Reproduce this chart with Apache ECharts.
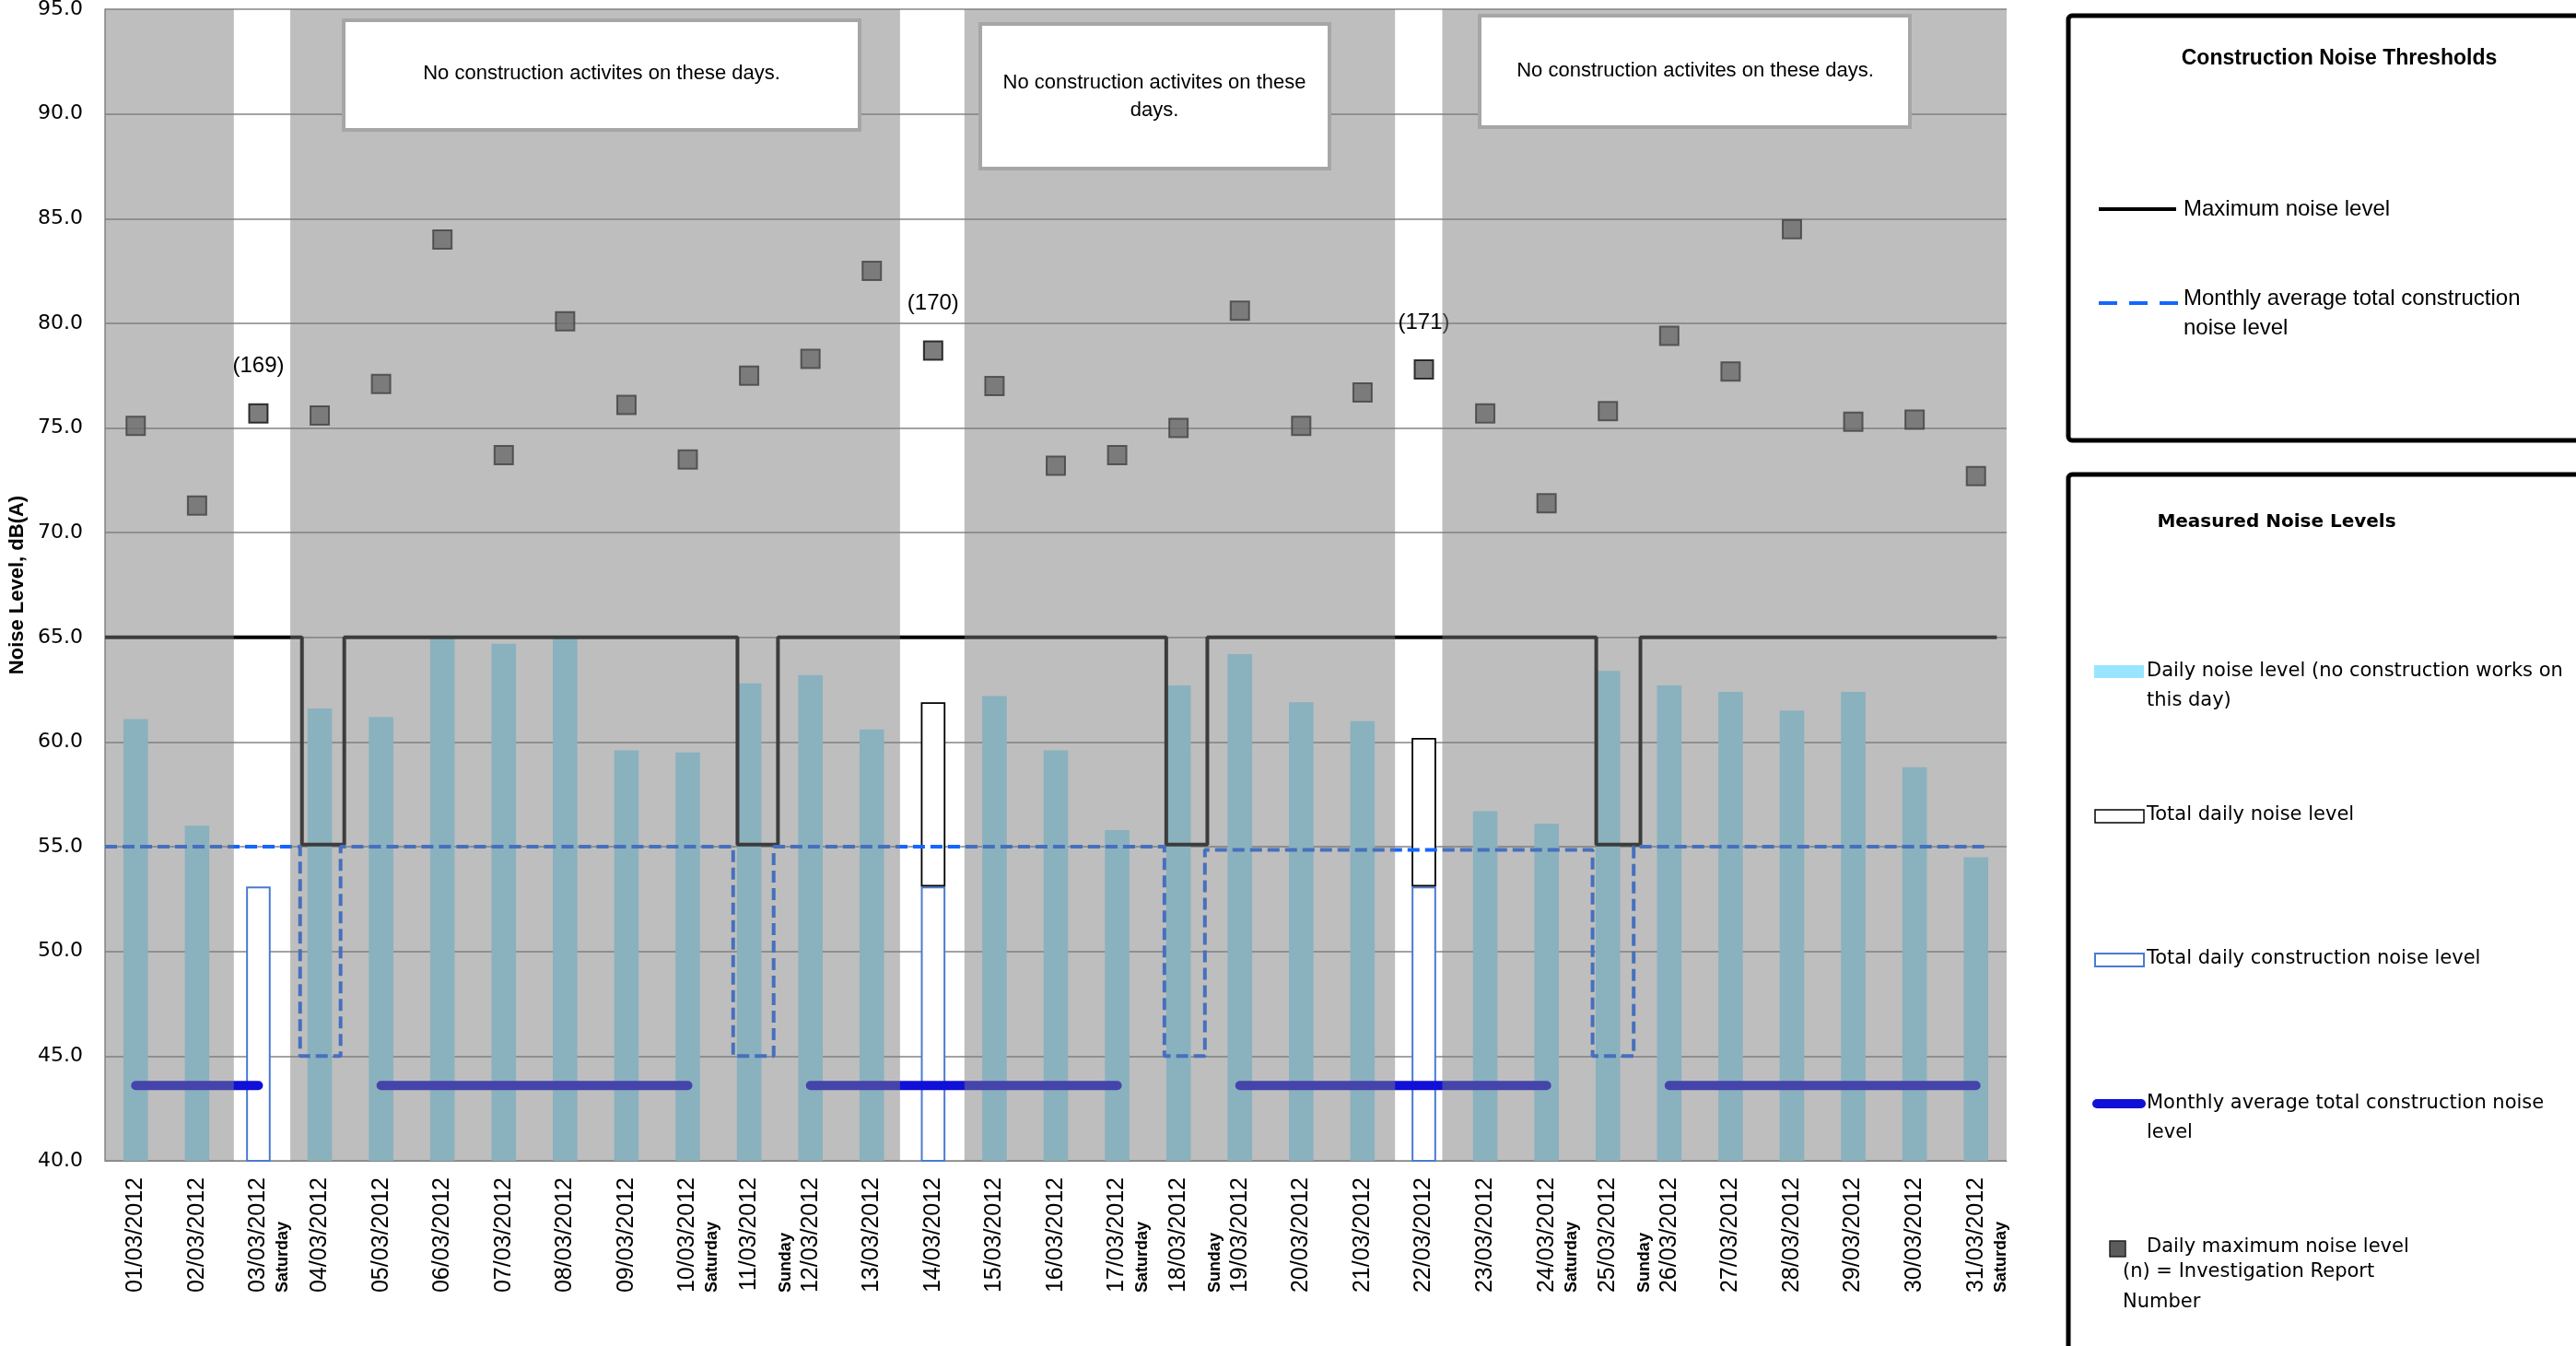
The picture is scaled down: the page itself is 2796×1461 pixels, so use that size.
<!DOCTYPE html>
<html>
<head>
<meta charset="utf-8">
<script src="https://cdn.jsdelivr.net/npm/echarts@6/dist/echarts.min.js"></script>
<style>
html,body{margin:0;padding:0;background:#ffffff;}
#chart{width:2796px;height:1461px;}
</style>
</head>
<body>
<div id="chart"></div>
<script>
// ---------------- DATA ----------------
const days = ['01/03/2012','02/03/2012','03/03/2012','04/03/2012','05/03/2012','06/03/2012','07/03/2012','08/03/2012','09/03/2012','10/03/2012',
  '11/03/2012','12/03/2012','13/03/2012','14/03/2012','15/03/2012','16/03/2012','17/03/2012','18/03/2012','19/03/2012','20/03/2012',
  '21/03/2012','22/03/2012','23/03/2012','24/03/2012','25/03/2012','26/03/2012','27/03/2012','28/03/2012','29/03/2012','30/03/2012','31/03/2012'];

// Daily noise level (no construction works on this day)
const dailyNoise = [61.1, 56.0, null, 61.6, 61.2, 65.0, 64.7, 65.0, 59.6, 59.5,
  62.8, 63.2, 60.6, null, 62.2, 59.6, 55.8, 62.7, 64.2, 61.9,
  61.0, null, 56.7, 56.1, 63.4, 62.7, 62.4, 61.5, 62.4, 58.8, 54.5];

// Total daily construction noise level
const constructionNoise = [null, null, 53.1, null, null, null, null, null, null, null,
  null, null, null, 53.1, null, null, null, null, null, null,
  null, 53.1, null, null, null, null, null, null, null, null, null];

// Total daily noise level
const totalDailyNoise = [null, null, null, null, null, null, null, null, null, null,
  null, null, null, 61.9, null, null, null, null, null, null,
  null, 60.2, null, null, null, null, null, null, null, null, null];

// Daily maximum noise level
const dailyMax = [75.1, 71.3, 75.7, 75.6, 77.1, 84.0, 73.7, 80.1, 76.1, 73.5,
  77.5, 78.3, 82.5, 78.7, 77.0, 73.2, 73.7, 75.0, 80.6, 75.1,
  76.7, 77.8, 75.7, 71.4, 75.8, 79.4, 77.7, 84.5, 75.3, 75.4, 72.7];

// Monthly average total construction noise level (measured)
const monthlyAvgMeasured = [43.6, 43.6, 43.6, null, 43.6, 43.6, 43.6, 43.6, 43.6, 43.6,
  null, 43.6, 43.6, 43.6, 43.6, 43.6, 43.6, null, 43.6, 43.6,
  43.6, 43.6, 43.6, 43.6, null, 43.6, 43.6, 43.6, 43.6, 43.6, 43.6];

// Investigation reports
const reportDays = ['03/03/2012', '14/03/2012', '22/03/2012'];
const reportNumbers = [169, 170, 171];

// Weekday notes under axis labels
const saturdayNoteDays = ['03/03/2012', '10/03/2012', '17/03/2012', '24/03/2012', '31/03/2012'];
const sundayNoteDays = ['12/03/2012', '19/03/2012', '26/03/2012'];

// Y axis ticks
const yMin = 40, yMax = 95, yStep = 5;

// Thresholds (on a 0..31 day scale)
const maxLimitLevels = [65, 65, 65, 65, 65];
const maxLimitSunday = 55.1;
const maxStepStart = [3.21, 10.31, 17.30, 24.31];
const maxStepEnd = [3.90, 10.97, 17.97, 25.03];
const maxLineEnd = 30.84;

const avgLimitLevels = [55, 55, 55, 54.85, 55];
const avgLimitSunday = 45;
const avgStepStart = [3.18, 10.24, 17.27, 24.25];
const avgStepEnd = [3.84, 10.90, 17.93, 24.92];
const avgLineEnd = 30.7;

// Shaded "no construction" panels (day scale 0..31)
const noActivityPanels = [[0, 2.1], [3.02, 12.96], [14.01, 21.03], [21.8, 31]];

// ---------------- BUILD ----------------
function stepPoints(starts, ends, levels, low, xEnd) {
  const pts = [[0, levels[0]]];
  starts.forEach((s, i) => {
    pts.push([s, levels[i]], [s, low], [ends[i], low], [ends[i], levels[i + 1]]);
  });
  pts.push([xEnd, levels[levels.length - 1]]);
  return pts;
}
const maxLinePts = stepPoints(maxStepStart, maxStepEnd, maxLimitLevels, maxLimitSunday, maxLineEnd);
const avgLinePts = stepPoints(avgStepStart, avgStepEnd, avgLimitLevels, avgLimitSunday, avgLineEnd);

const totalExtra = totalDailyNoise.map((t, i) => t == null ? null : +(t - constructionNoise[i]).toFixed(2));

const reportLabelStyle = {
  show: true, position: 'top', distance: 28,
  color: '#000000', opacity: 1, fontSize: 24, fontFamily: 'Liberation Sans',
  textBorderWidth: 0, textBorderColor: 'transparent', textShadowBlur: 0
};
const scatterData = dailyMax.map((v, i) => {
  const k = reportDays.indexOf(days[i]);
  if (k < 0) return v;
  return { value: v, label: Object.assign({}, reportLabelStyle, { formatter: '(' + reportNumbers[k] + ')' }) };
});

const panelData = noActivityPanels.map(p => [p[0], p[1], yMin, yMax]);

const chart = echarts.init(document.getElementById('chart'), null, { renderer: 'canvas' });

const GRID = { left: 114, right: 618, top: 10, bottom: 201 };

const option = {
  backgroundColor: '#ffffff',
  animation: false,
  textStyle: { fontFamily: 'Liberation Sans' },
  grid: Object.assign({ containLabel: false, outerBoundsMode: 'none' }, GRID),
  xAxis: [
    {
      type: 'category',
      data: days,
      boundaryGap: true,
      axisLine: { show: true, lineStyle: { color: '#868686', width: 1 } },
      axisTick: { show: false },
      axisLabel: {
        interval: 0,
        rotate: 90,
        margin: 18,
        color: '#000',
        formatter: function (v) {
          const sun = sundayNoteDays.indexOf(v) >= 0 ? 'Sunday' : ' ';
          const sat = saturdayNoteDays.indexOf(v) >= 0 ? 'Saturday' : ' ';
          return '{w|' + sun + '}\n{d|' + v + '}\n{w|' + sat + '}';
        },
        rich: {
          d: { fontFamily: 'Liberation Sans', fontSize: 25, lineHeight: 30, color: '#000', align: 'left' },
          w: { fontFamily: 'Liberation Sans', fontSize: 18, fontWeight: 'bold', lineHeight: 24, color: '#000', align: 'left' }
        }
      },
      splitLine: { show: false }
    },
    {
      type: 'value',
      min: 0,
      max: 31,
      show: false,
      splitLine: { show: false }
    }
  ],
  yAxis: {
    type: 'value',
    min: yMin,
    max: yMax,
    interval: yStep,
    name: 'Noise Level, dB(A)',
    nameLocation: 'middle',
    nameGap: 80,
    nameTextStyle: { fontFamily: 'Liberation Sans', fontSize: 22, fontWeight: 'bold', color: '#000' },
    axisLine: { show: true, lineStyle: { color: '#868686', width: 1.5 } },
    axisTick: { show: false },
    axisLabel: {
      margin: 24,
      color: '#000',
      fontFamily: 'DejaVu Sans',
      fontSize: 22,
      formatter: v => v.toFixed(1)
    },
    splitLine: { show: true, lineStyle: { color: '#848484', width: 1.5 } }
  },
  series: [
    {
      name: 'Daily noise level (no construction works on this day)',
      type: 'bar',
      xAxisIndex: 0,
      data: dailyNoise,
      barWidth: '40%',
      barGap: '-100%',
      itemStyle: { color: '#99E5FF' },
      z: 2
    },
    {
      name: 'Total daily construction noise level',
      type: 'bar',
      xAxisIndex: 0,
      stack: 'measured',
      data: constructionNoise,
      barWidth: '40%',
      barGap: '-100%',
      itemStyle: { color: '#ffffff', borderColor: '#4A7BD0', borderWidth: 2 },
      z: 2
    },
    {
      name: 'Total daily noise level',
      type: 'bar',
      xAxisIndex: 0,
      stack: 'measured',
      data: totalExtra,
      barWidth: '40%',
      barGap: '-100%',
      itemStyle: { color: '#ffffff', borderColor: '#000000', borderWidth: 1.8 },
      z: 2
    },
    {
      name: 'Monthly average total construction noise level (measured)',
      type: 'line',
      xAxisIndex: 0,
      data: monthlyAvgMeasured,
      connectNulls: false,
      showSymbol: false,
      symbol: 'none',
      lineStyle: { color: '#1010D8', width: 10, cap: 'round' },
      z: 3
    },
    {
      name: 'Maximum noise level',
      type: 'line',
      xAxisIndex: 1,
      data: maxLinePts,
      showSymbol: false,
      symbol: 'none',
      lineStyle: { color: '#000000', width: 4 },
      z: 3
    },
    {
      name: 'Monthly average total construction noise level',
      type: 'line',
      xAxisIndex: 1,
      data: avgLinePts,
      showSymbol: false,
      symbol: 'none',
      lineStyle: { color: '#1466FF', width: 4, type: [13, 6] },
      z: 3
    },
    {
      name: 'Daily maximum noise level',
      type: 'scatter',
      xAxisIndex: 0,
      data: scatterData,
      symbol: 'rect',
      symbolSize: [20, 20],
      itemStyle: { color: '#5C5C5C', borderColor: '#0A0A0A', borderWidth: 2 },
      label: { show: false, position: 'top', distance: 28, color: '#000000', fontSize: 24, fontFamily: 'Liberation Sans', textBorderWidth: 0 },
      emphasis: { disabled: true },
      z: 4
    },
    {
      name: 'No construction shading',
      type: 'custom',
      xAxisIndex: 1,
      data: panelData,
      encode: { x: [0, 1], y: [2, 3] },
      silent: true,
      z: 10,
      renderItem: function (params, api) {
        const p0 = api.coord([api.value(0), api.value(3)]);
        const p1 = api.coord([api.value(1), api.value(2)]);
        return {
          type: 'rect',
          shape: { x: p0[0], y: p0[1], width: p1[0] - p0[0], height: p1[1] - p0[1] },
          style: { fill: 'rgba(122,122,122,0.49)' }
        };
      }
    }
  ],
  graphic: [
    // Note boxes
    { type: 'rect', z: 100, shape: { x: 373, y: 22, width: 560, height: 119 }, style: { fill: '#fff', stroke: '#A6A6A6', lineWidth: 4 } },
    { type: 'text', z: 101, x: 653, y: 80, style: { text: 'No construction activites on these days.', font: '22px "Liberation Sans"', fill: '#000', textAlign: 'center', textVerticalAlign: 'middle', align: 'center', verticalAlign: 'middle' } },
    { type: 'rect', z: 100, shape: { x: 1064, y: 26, width: 379, height: 157 }, style: { fill: '#fff', stroke: '#A6A6A6', lineWidth: 4 } },
    { type: 'text', z: 101, x: 1253, y: 105, style: { text: 'No construction activites on these\ndays.', font: '22px "Liberation Sans"', lineHeight: 30, fill: '#000', textAlign: 'center', textVerticalAlign: 'middle', align: 'center', verticalAlign: 'middle' } },
    { type: 'rect', z: 100, shape: { x: 1606, y: 17, width: 467, height: 121 }, style: { fill: '#fff', stroke: '#A6A6A6', lineWidth: 4 } },
    { type: 'text', z: 101, x: 1840, y: 77, style: { text: 'No construction activites on these days.', font: '22px "Liberation Sans"', fill: '#000', textAlign: 'center', textVerticalAlign: 'middle', align: 'center', verticalAlign: 'middle' } },

    // Legend box 1
    { type: 'rect', z: 100, shape: { x: 2245, y: 17, width: 600, height: 461, r: 4 }, style: { fill: '#fff', stroke: '#000', lineWidth: 5 } },
    { type: 'text', z: 101, x: 2539, y: 64, style: { text: 'Construction Noise Thresholds', font: 'bold 23px "Liberation Sans"', fill: '#000', textAlign: 'center', textVerticalAlign: 'middle', align: 'center', verticalAlign: 'middle' } },
    { type: 'line', z: 101, shape: { x1: 2278, y1: 227, x2: 2362, y2: 227 }, style: { stroke: '#000', lineWidth: 4 } },
    { type: 'text', z: 101, x: 2370, y: 227, style: { text: 'Maximum noise level', font: '24px "Liberation Sans"', fill: '#000', textVerticalAlign: 'middle', verticalAlign: 'middle' } },
    { type: 'line', z: 101, shape: { x1: 2278, y1: 329, x2: 2364, y2: 329 }, style: { stroke: '#1466FF', lineWidth: 4, lineDash: [20, 13] } },
    { type: 'text', z: 101, x: 2370, y: 340, style: { text: 'Monthly average total construction\nnoise level', font: '24px "Liberation Sans"', lineHeight: 32, fill: '#000', textVerticalAlign: 'middle', verticalAlign: 'middle' } },

    // Legend box 2
    { type: 'rect', z: 100, shape: { x: 2245, y: 515, width: 600, height: 1000, r: 4 }, style: { fill: '#fff', stroke: '#000', lineWidth: 5 } },
    { type: 'text', z: 101, x: 2471, y: 567, style: { text: 'Measured Noise Levels', font: 'bold 20px "DejaVu Sans"', fill: '#000', textAlign: 'center', textVerticalAlign: 'middle', align: 'center', verticalAlign: 'middle' } },
    { type: 'rect', z: 101, shape: { x: 2273, y: 722, width: 54, height: 14 }, style: { fill: '#99E5FF' } },
    { type: 'text', z: 101, x: 2330, y: 745, style: { text: 'Daily noise level (no construction works on\nthis day)', font: '21px "DejaVu Sans"', lineHeight: 32, fill: '#000', textVerticalAlign: 'middle', verticalAlign: 'middle' } },
    { type: 'rect', z: 101, shape: { x: 2274, y: 879, width: 53, height: 14 }, style: { fill: '#fff', stroke: '#000', lineWidth: 1.5 } },
    { type: 'text', z: 101, x: 2330, y: 885, style: { text: 'Total daily noise level', font: '21px "DejaVu Sans"', fill: '#000', textVerticalAlign: 'middle', verticalAlign: 'middle' } },
    { type: 'rect', z: 101, shape: { x: 2274, y: 1035, width: 53, height: 14 }, style: { fill: '#fff', stroke: '#4A7BD0', lineWidth: 2 } },
    { type: 'text', z: 101, x: 2330, y: 1041, style: { text: 'Total daily construction noise level', font: '21px "DejaVu Sans"', fill: '#000', textVerticalAlign: 'middle', verticalAlign: 'middle' } },
    { type: 'line', z: 101, shape: { x1: 2276, y1: 1198, x2: 2324, y2: 1198 }, style: { stroke: '#1010D8', lineWidth: 10, lineCap: 'round' } },
    { type: 'text', z: 101, x: 2330, y: 1214, style: { text: 'Monthly average total construction noise\nlevel', font: '21px "DejaVu Sans"', lineHeight: 32, fill: '#000', textVerticalAlign: 'middle', verticalAlign: 'middle' } },
    { type: 'rect', z: 101, shape: { x: 2290, y: 1347, width: 17, height: 17 }, style: { fill: '#5C5C5C', stroke: '#222', lineWidth: 1.5 } },
    { type: 'text', z: 101, x: 2330, y: 1354, style: { text: 'Daily maximum noise level', font: '21px "DejaVu Sans"', fill: '#000', textVerticalAlign: 'middle', verticalAlign: 'middle' } },
    { type: 'text', z: 101, x: 2304, y: 1397, style: { text: '(n) = Investigation Report\nNumber', font: '21px "DejaVu Sans"', lineHeight: 33, fill: '#000', textVerticalAlign: 'middle', verticalAlign: 'middle' } }
  ]
};

chart.setOption(option);
</script>
</body>
</html>
